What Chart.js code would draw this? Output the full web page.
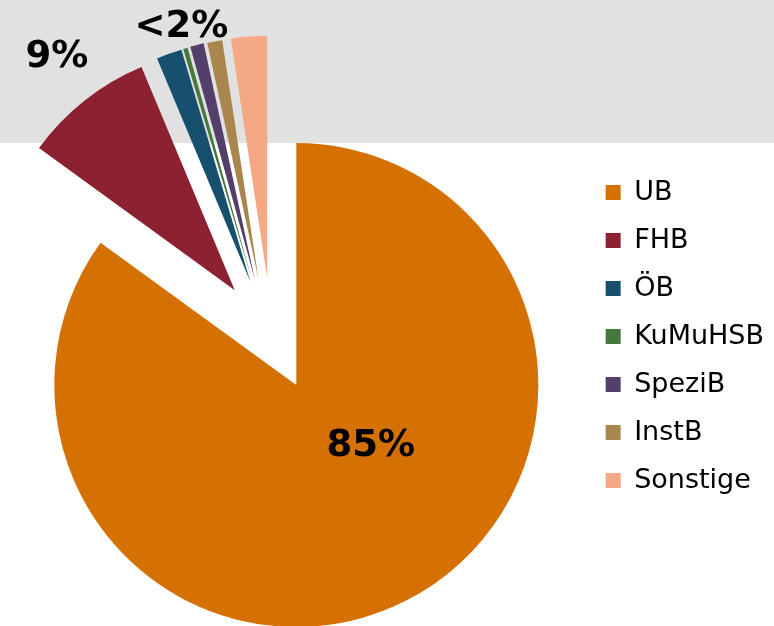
<!DOCTYPE html>
<html lang="de">
<head>
    <meta charset="UTF-8">
    <title>Anteile</title>
    <style>
        body {
            margin: 0;
            padding: 0;
            background-color: #ffffff;
        }

        .chart-container {
            width: 774px;
            height: 626px;
        }
    </style>
    <script src="https://cdn.jsdelivr.net/npm/chart.js"></script>
</head>
<body>
    <div class="chart-container">
        <canvas id="myChart" width="774" height="626"></canvas>
    </div>

    <script>
        // Daten (Anteile in Prozent)
        const categories = ['UB', 'FHB', 'ÖB', 'KuMuHSB', 'SpeziB', 'InstB', 'Sonstige'];
        const shares = [85.0, 8.7, 1.7, 0.3, 0.9, 1.0, 2.4];
        const sliceColors = ['#d57003', '#8c2231', '#174f6e', '#44783d', '#533f6a', '#aa864f', '#f4a886'];

        // herausgezogene Segmente: Abstand (px) und Richtung (Grad, von 12 Uhr im Uhrzeigersinn)
        const explodeDist = [0, 113, 113, 113, 113, 112, 111];
        const explodeDir = [0, -33, -24, -23, -21.5, -19.7, -15.2];

        // Beschriftungen: Text, Segmentbereich (von/bis), Lage im Winkelbereich, Radiusfaktor
        const labelTexts = ['85%', '9%', '<2%'];
        const labelFrom = [0, 1, 2];
        const labelTo = [0, 1, 6];
        const labelT = [0.424, 0.57, 0.216];
        const labelR = [0.40, 1.677, 1.554];

        // grauer Streifen oben
        const topBand = {
            id: 'topBand',
            beforeDraw(chart) {
                const ctx = chart.ctx;
                ctx.save();
                ctx.fillStyle = '#e1e1e1';
                ctx.fillRect(0, 0, chart.width, 143);
                ctx.restore();
            }
        };

        // Segmente parallel verschieben (Chart.js offset vergrößert sonst auch den Radius)
        const explodeSlices = {
            id: 'explodeSlices',
            afterUpdate(chart) {
                const arcs = chart.getDatasetMeta(0).data;
                arcs.forEach((arc, i) => {
                    const dir = explodeDir[i] * Math.PI / 180;
                    arc.x += Math.sin(dir) * explodeDist[i];
                    arc.y -= Math.cos(dir) * explodeDist[i];
                });
            }
        };

        const pctLabels = {
            id: 'pctLabels',
            afterDatasetsDraw(chart) {
                const ctx = chart.ctx;
                const area = chart.chartArea;
                const cx = (area.left + area.right) / 2;
                const cy = (area.top + area.bottom) / 2;
                const arcs = chart.getDatasetMeta(0).data;
                ctx.save();
                ctx.fillStyle = '#000000';
                ctx.font = 'bold 37px "DejaVu Sans"';
                ctx.textAlign = 'center';
                ctx.textBaseline = 'middle';
                labelTexts.forEach((text, i) => {
                    const a = arcs[labelFrom[i]];
                    const b = arcs[labelTo[i]];
                    const ang = a.startAngle + labelT[i] * (b.endAngle - a.startAngle);
                    const r = a.outerRadius * labelR[i];
                    ctx.fillText(text, cx + Math.cos(ang) * r, cy + Math.sin(ang) * r);
                });
                ctx.restore();
            }
        };

        const ctx = document.getElementById('myChart').getContext('2d');
        const myChart = new Chart(ctx, {
            type: 'pie',
            data: {
                labels: categories,
                datasets: [{
                    data: shares,
                    backgroundColor: sliceColors,
                    borderWidth: 0,
                    hoverOffset: 0,
                    clip: false
                }]
            },
            options: {
                responsive: false,
                animation: false,
                events: [],
                radius: 242,
                layout: {
                    padding: { top: 158, bottom: 14, left: 8, right: 0 }
                },
                plugins: {
                    tooltip: { enabled: false },
                    legend: {
                        position: 'right',
                        align: 'start',
                        labels: {
                            boxWidth: 15,
                            boxHeight: 15,
                            padding: 21,
                            color: '#000000',
                            font: { family: '"DejaVu Sans"', size: 27 }
                        }
                    }
                }
            },
            plugins: [topBand, explodeSlices, pctLabels]
        });
    </script>
</body>
</html>
